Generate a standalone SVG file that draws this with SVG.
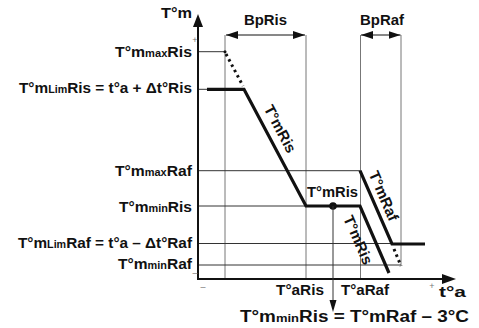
<svg xmlns="http://www.w3.org/2000/svg" width="479" height="328" viewBox="0 0 479 328">
<defs>
<style>
text{font-family:"Liberation Sans",Arial,sans-serif;font-weight:bold;font-size:15px;fill:#111}
.sub{font-size:10.5px}
.v{stroke:#777;stroke-width:1;fill:none}
.h{stroke:#333;stroke-width:1;fill:none}
.thick{stroke:#111;stroke-width:3.2;fill:none;stroke-linejoin:miter}
.dot{stroke:#111;stroke-width:3;fill:none;stroke-dasharray:2.5 3.5}
.ax{stroke:#111;stroke-width:2;fill:none}
.sign{font-size:9px;fill:#777;font-weight:normal}
</style>
<marker id="ah" viewBox="0 0 12 8" refX="12" refY="4" markerWidth="12" markerHeight="8" markerUnits="userSpaceOnUse" orient="auto-start-reverse">
<path d="M0,0 L12,4 L0,8 Z" fill="#111"/>
</marker>
</defs>
<rect width="479" height="328" fill="#fff"/>
<g id="grid">
<line class="v" x1="225" y1="35" x2="225" y2="279"/>
<line class="v" x1="306" y1="35" x2="306" y2="279"/>
<line class="v" x1="360.5" y1="35" x2="360.5" y2="279"/>
<line class="v" x1="401" y1="35" x2="401" y2="265"/>
<line class="h" x1="198" y1="51.7" x2="225" y2="51.7"/>
<line class="h" x1="198" y1="89.3" x2="207" y2="89.3"/>
<line class="h" x1="198" y1="170.7" x2="360" y2="170.7"/>
<line class="h" x1="198" y1="206" x2="306" y2="206"/>
<line class="h" x1="198" y1="243.5" x2="392" y2="243.5"/>
<line class="h" x1="198" y1="265" x2="401" y2="265"/>
</g>
<g id="axes">
<line class="ax" x1="198" y1="280" x2="198" y2="26"/>
<polygon points="198,14 193,27 203,27" fill="#111"/>
<line class="ax" x1="197" y1="279" x2="443" y2="279"/>
<polygon points="456,279 442,274 442,284" fill="#111"/>
<text x="161" y="18" textLength="31" lengthAdjust="spacingAndGlyphs">T°m</text>
<text x="439" y="297" textLength="27" lengthAdjust="spacingAndGlyphs">t°a</text>
<text class="sign" x="195" y="43" text-anchor="middle">+</text>
<text class="sign" x="195" y="276" text-anchor="middle">–</text>
<text class="sign" x="203" y="290" text-anchor="middle">–</text>
<text class="sign" x="432" y="289" text-anchor="middle">+</text>
</g>
<g id="connectors">
<line class="h" x1="226" y1="35" x2="305" y2="35" marker-start="url(#ah)" marker-end="url(#ah)" style="stroke:#111"/>
<line class="h" x1="361" y1="35" x2="400.5" y2="35" marker-start="url(#ah)" marker-end="url(#ah)" style="stroke:#111"/>
<polyline class="thick" points="207,89.3 244,89.3 306,206 360,206 389,273"/>
<polyline class="thick" points="360,170.7 392,244 425,244"/>
<line class="dot" x1="226" y1="54" x2="243" y2="86"/>
<line class="dot" x1="394" y1="249" x2="401" y2="266"/>
<circle cx="225" cy="51.7" r="1.5" fill="#111"/>
<circle cx="333" cy="206" r="3.8" fill="#111"/>
<line class="h" x1="333" y1="206" x2="333" y2="302"/>
<polygon points="333,312 329.5,300 336.5,300" fill="#111"/>
</g>
<g id="labels">
<text x="244" y="25" textLength="43" lengthAdjust="spacingAndGlyphs">BpRis</text>
<text x="360" y="25" textLength="44" lengthAdjust="spacingAndGlyphs">BpRaf</text>
<text x="115" y="57" textLength="77" lengthAdjust="spacingAndGlyphs">T°m<tspan class="sub">max</tspan>Ris</text>
<text x="19" y="93" textLength="173" lengthAdjust="spacingAndGlyphs">T°m<tspan class="sub">Lim</tspan>Ris = t°a + Δt°Ris</text>
<text x="115" y="176" textLength="77" lengthAdjust="spacingAndGlyphs">T°m<tspan class="sub">max</tspan>Raf</text>
<text x="119" y="212" textLength="73" lengthAdjust="spacingAndGlyphs">T°m<tspan class="sub">min</tspan>Ris</text>
<text x="18" y="247.5" textLength="174" lengthAdjust="spacingAndGlyphs">T°m<tspan class="sub">Lim</tspan>Raf = t°a – Δt°Raf</text>
<text x="118" y="268.5" textLength="74" lengthAdjust="spacingAndGlyphs">T°m<tspan class="sub">min</tspan>Raf</text>
<text x="307" y="197" textLength="51" lengthAdjust="spacingAndGlyphs">T°mRis</text>
<text x="276" y="295" textLength="48" lengthAdjust="spacingAndGlyphs">T°aRis</text>
<text x="341" y="295" textLength="48" lengthAdjust="spacingAndGlyphs">T°aRaf</text>
<text x="240" y="322" textLength="229" lengthAdjust="spacingAndGlyphs" style="font-size:16px">T°m<tspan style="font-size:11px">min</tspan>Ris = T°mRaf – 3°C</text>
<text text-anchor="middle" transform="translate(275.6,131.3) rotate(62)">T°mRis</text>
<text text-anchor="middle" transform="translate(378.9,198) rotate(66.6)">T°mRaf</text>
<text text-anchor="middle" transform="translate(353.4,242) rotate(66.6)">T°mRis</text>
</g>
</svg>
